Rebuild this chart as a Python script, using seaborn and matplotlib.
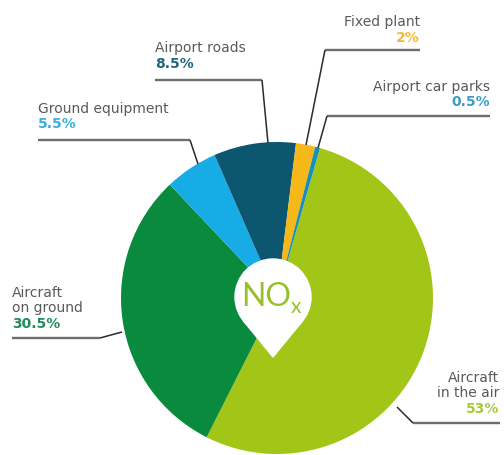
import numpy as np
import matplotlib
matplotlib.use("Agg")
import matplotlib.pyplot as plt
from matplotlib.patches import Circle, Polygon
import seaborn as sns

# NOx emission sources at the airport (share of total, %)
sources = ["Aircraft in the air", "Aircraft on ground", "Ground equipment",
           "Airport roads", "Fixed plant", "Airport car parks"]
shares = [53, 30.5, 5.5, 8.5, 2, 0.5]
slice_colors = ["#a2c617", "#0a8a3d", "#18ace6", "#0c5670", "#f6b719", "#1a8fb5"]
pct_colors = ["#a8c93c", "#1f8d5e", "#3aaee0", "#1f6680", "#f2bb33", "#3b9cc6"]
pct_labels = ["53%", "30.5%", "5.5%", "8.5%", "2%", "0.5%"]
name_labels = ["Aircraft\nin the air", "Aircraft\non ground", "Ground equipment",
               "Airport roads", "Fixed plant", "Airport car parks"]

sns.set_theme(style="white")
plt.rcParams["font.family"] = ["DejaVu Sans"]

W, H = 504, 455
fig = plt.figure(figsize=(W / 100, H / 100), dpi=100)
ax = fig.add_axes([0, 0, 1, 1])

cx, cy, R = 277, 298, 156
ax.pie(shares, colors=slice_colors, startangle=-74, counterclock=True,
       center=(cx, cy), radius=R, wedgeprops=dict(linewidth=0))
ax.set_xlim(0, W)
ax.set_ylim(H, 0)
ax.set_aspect("equal")
ax.axis("off")

# white map-pin marker in the middle
pr, pc = 38, (273, 297)
tip = (273, 357)
d = tip[1] - pc[1]
a = np.arccos(pr / d)
p1 = (pc[0] + pr * np.sin(a), pc[1] + pr * np.cos(a))
p2 = (pc[0] - pr * np.sin(a), pc[1] + pr * np.cos(a))
ax.add_patch(Circle(pc, pr, color="white", zorder=3))
ax.add_patch(Polygon([p1, tip, p2, pc], closed=True, color="white", zorder=3))
ax.text(266, 297, "NO", fontsize=23, color="#96c02a", ha="center", va="center",
        fontweight="normal", family=["Lato", "DejaVu Sans"], zorder=4)
ax.text(296, 307, "x", fontsize=15, color="#96c02a", ha="center", va="center",
        fontweight="normal", family=["Lato", "DejaVu Sans"], zorder=4)

name_col = "#5a5a5a"
fs = 10


def callout(name, pct, pcol, tx, ty, ha, pts, nlines=1):
    ax.text(tx, ty, name, fontsize=fs, color=name_col, ha=ha, va="top",
            linespacing=1.05)
    ax.text(tx, ty + 15.5 * nlines, pct, fontsize=fs, color=pcol, ha=ha,
            va="top", fontweight="bold")
    # grey underline, then a thin dark leader to the slice
    (x0, y0), (x1, y1), (x2, y2) = pts
    ax.plot([x0, x1], [y0, y1], color="#6e6e6e", lw=1.7, solid_capstyle="butt")
    ax.plot([x1, x2], [y1, y2], color="#2a2a2a", lw=1.1, solid_capstyle="butt")


# Airport roads
callout(name_labels[3], pct_labels[3], pct_colors[3], 155, 41, "left",
        [(155, 80), (262, 80), (268, 143)])
# Fixed plant
callout(name_labels[4], pct_labels[4], pct_colors[4], 420, 15, "right",
        [(420, 50), (325, 50), (306, 145)])
# Airport car parks
callout(name_labels[5], pct_labels[5], pct_colors[5], 490, 80, "right",
        [(490, 116), (327, 116), (318, 148)])
# Ground equipment
callout(name_labels[2], pct_labels[2], pct_colors[2], 38, 102, "left",
        [(38, 140), (190, 140), (198, 164)])
# Aircraft on ground
callout(name_labels[1], pct_labels[1], pct_colors[1], 12, 286, "left",
        [(12, 338), (100, 338), (122, 332)], nlines=2)
# Aircraft in the air
callout(name_labels[0], pct_labels[0], pct_colors[0], 499, 371, "right",
        [(500, 423), (413, 423), (397, 407)], nlines=2)

fig.savefig("out.png", dpi=100, facecolor="white")
